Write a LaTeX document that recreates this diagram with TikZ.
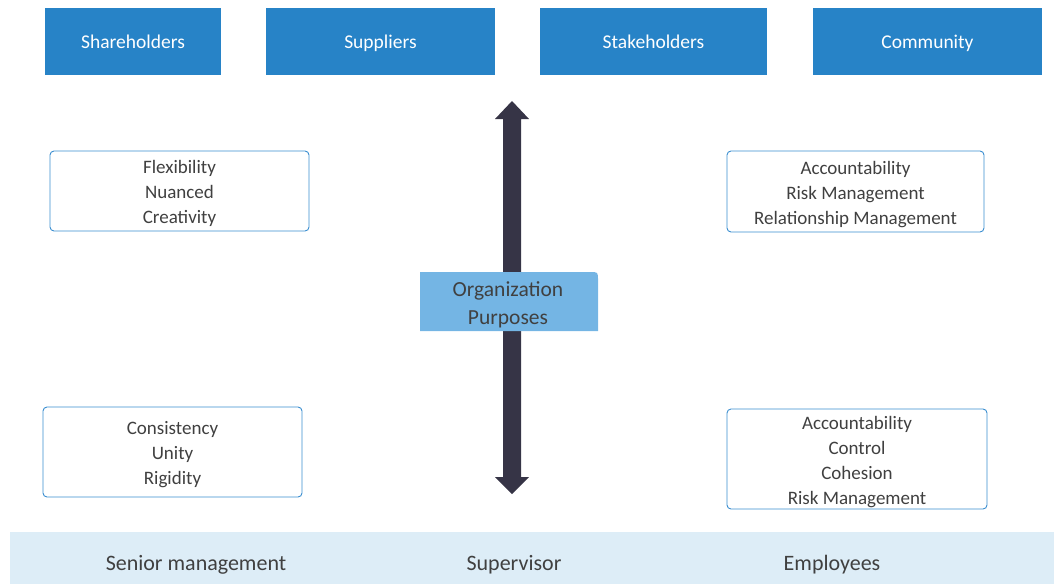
\documentclass[tikz,border=0pt]{standalone}
\usepackage{fontspec}
\setmainfont{Carlito}
\usetikzlibrary{calc}
\definecolor{topblue}{HTML}{2783C7}
\definecolor{boxline}{HTML}{3A8ED0}
\definecolor{midblue}{HTML}{74B5E4}
\definecolor{band}{HTML}{DDEDF7}
\definecolor{arrowc}{HTML}{363446}
\definecolor{txt}{HTML}{404040}
\tikzset{
  x=1pt, y=-1pt,
  topbox/.style={fill=topblue, text=white, inner sep=0pt, text height=17pt, text depth=4pt, font=\fontsize{19.5}{24}\selectfont},
  valbox/.style={draw=boxline, line width=0.9pt, rounded corners=4pt, fill=white, inner sep=0pt},
  valtxt/.style={text=txt, align=center, inner sep=0pt, font=\fontsize{19}{25}\selectfont},
  bandtxt/.style={text=txt, inner sep=0pt, font=\fontsize{22}{26}\selectfont},
}
\begin{document}
\begin{tikzpicture}
\useasboundingbox (0,0) rectangle (1054,584);
% top boxes
\node[topbox, minimum width=176pt, minimum height=67pt] (sh) at (133,41.5) {Shareholders};
\node[topbox, minimum width=229pt, minimum height=67pt] (su) at (380.5,41.5) {Suppliers};
\node[topbox, minimum width=227pt, minimum height=67pt] (st) at (653.5,41.5) {Stakeholders};
\node[topbox, minimum width=229pt, minimum height=67pt] (co) at (927.5,41.5) {Community};
% value boxes
\node[valbox, minimum width=259pt, minimum height=80pt] (flex) at (179.5,191) {};
\node[valtxt] (flext) at ($(flex)+(0,2.5)$) {Flexibility\\Nuanced\\Creativity};
\node[valbox, minimum width=257pt, minimum height=81pt] (acc1) at (855.5,191.5) {};
\node[valtxt] (acc1t) at ($(acc1)+(0,3)$) {Accountability\\Risk Management\\Relationship Management};
\node[valbox, minimum width=259pt, minimum height=90pt] (cons) at (172.5,452) {};
\node[valtxt] (const) at ($(cons)+(0,3)$) {Consistency\\Unity\\Rigidity};
\node[valbox, minimum width=260pt, minimum height=100pt] (acc2) at (857,459) {};
\node[valtxt] (acc2t) at ($(acc2)+(0,3)$) {Accountability\\Control\\Cohesion\\Risk Management};
% arrow
\coordinate (atop) at (512,101);
\coordinate (abot) at (512,494);
\fill[arrowc] (atop) -- ++(17,18) -- ++(-8,0) -- ($(abot)+(9,-17)$) -- ++(8,0) -- (abot) -- ++(-17,-17) -- ++(8,0) -- ($(atop)+(-9,18)$) -- ++(-8,0) -- cycle;
% centre box
\fill[midblue] (420,331) -- (420,272) -- (590,272) .. controls (598,272) .. (598,280) -- (598,331) -- cycle;
\node[text=txt, align=center, inner sep=0pt, font=\fontsize{21.5}{28}\selectfont] (org) at (508,305) {Organization\\Purposes};
% band
\fill[band] (10,532) rectangle (1054,584);
\node[bandtxt] (sm) at (196,565) {Senior management};
\node[bandtxt] (sv) at (514,565) {Supervisor};
\node[bandtxt] (em) at (832,565) {Employees};
\end{tikzpicture}
\end{document}
